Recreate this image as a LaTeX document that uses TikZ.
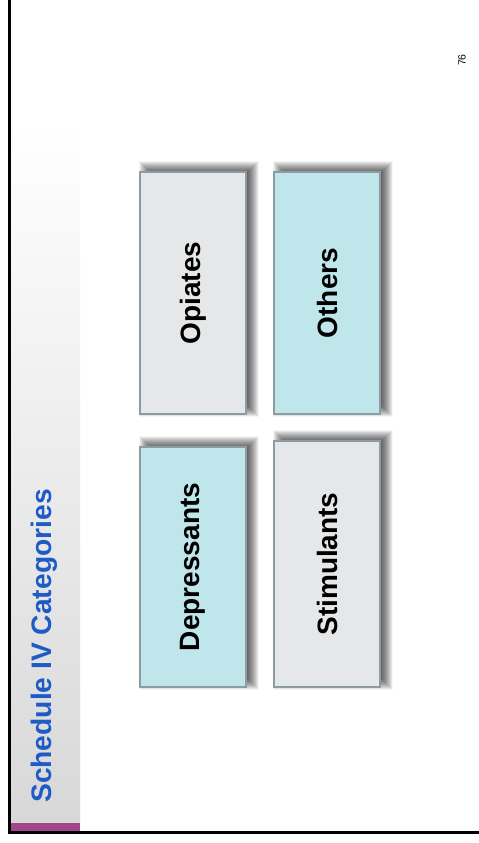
\documentclass[tikz,border=0pt]{standalone}
\usepackage{fontspec}
\setmainfont{Liberation Sans}
\usetikzlibrary{backgrounds,calc}
\definecolor{titleblue}{HTML}{1E5BC6}
\definecolor{boxgray}{HTML}{E6E7E9}
\definecolor{boxcyan}{HTML}{BFE6EA}
\definecolor{boxedge}{HTML}{8D9BA3}
\definecolor{bandgray}{HTML}{D8D8D8}
\definecolor{accent}{HTML}{A0468F}
\tikzset{
  category/.style={draw=boxedge, line width=1.5pt, inner sep=0pt,
    minimum width=106pt, font=\fontsize{28}{30}\selectfont\bfseries},
  graybox/.style={category, fill=boxgray},
  cyanbox/.style={category, fill=boxcyan},
  softshade/.style={black, fill opacity=0.035},
  frame/.style={line width=3pt, black}
}
\begin{document}
\begin{tikzpicture}[x=1pt, y=-1pt]
  \useasboundingbox (0,0) rectangle (479,843);
  % category boxes
  \node[graybox, minimum height=242pt] (opiates) at (193,293) {\rotatebox{90}{Opiates}};
  \node[cyanbox, minimum height=242pt] (others) at (327,293) {\rotatebox{90}{Others}};
  \node[cyanbox, minimum height=240pt] (depressants) at (193,567) {\rotatebox{90}{Depressants}};
  \node[graybox, minimum height=246pt] (stimulants) at (327,564) {\rotatebox{90}{Stimulants}};
  \begin{scope}[on background layer]
    \fill[white] (0,0) rectangle (479,843);
    % side band with vertical fade
    \shade[top color=white, bottom color=bandgray] (11,120) rectangle (80,823);
    \fill[accent] (11,823) rectangle (80,831);
    % soft drop shadows, offset up and to the right
    \foreach \n in {opiates,others,depressants,stimulants}{
      \foreach \d in {-6,-5.5,...,6}{
        \fill[softshade] ($(\n.north west)+(6-\d,-4-\d)$)
          rectangle ($(\n.south east)+(6+\d,-4+\d)$);
      }
    }
  \end{scope}
  % frame lines
  \coordinate (ftop) at (9.5,0);
  \coordinate (fcorner) at (9.5,832.5);
  \coordinate (fright) at (479,832.5);
  \draw[frame] (ftop) -- (fcorner) -- (fright);
  % title and page number
  \node[rotate=90, text=titleblue, font=\fontsize{28.2}{30}\selectfont\bfseries,
    anchor=center] (title) at (44,646) {Schedule IV Categories};
  \node[rotate=90, font=\fontsize{10.5}{12}\selectfont] (page) at (462,60) {76};
\end{tikzpicture}
\end{document}
